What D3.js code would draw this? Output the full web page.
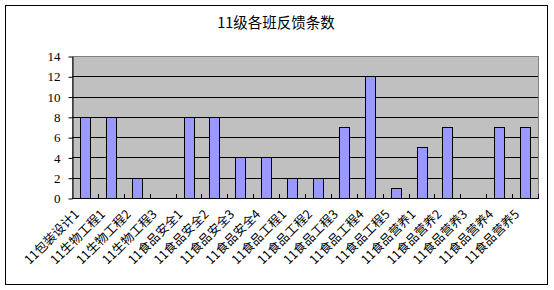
<!DOCTYPE html>
<html>
<head>
<meta charset="utf-8">
<script src="https://cdn.jsdelivr.net/npm/d3@7"></script>
<style>
  body { margin: 0; background: #fff; }
</style>
</head>
<body>
<script>
// categories and values
var classes = ["11包装设计1", "11生物工程1", "11生物工程2", "11生物工程3",
  "11食品安全1", "11食品安全2", "11食品安全3", "11食品安全4",
  "11食品工程1", "11食品工程2", "11食品工程3", "11食品工程4", "11食品工程5",
  "11食品营养1", "11食品营养2", "11食品营养3", "11食品营养4", "11食品营养5"];
var counts = [8, 8, 2, 0, 8, 8, 4, 4, 2, 2, 7, 12, 1, 5, 7, 0, 7, 7];
var yTicks = [0, 2, 4, 6, 8, 10, 12, 14];

var w = 554, h = 290;
var pl = 72, pr = 538, pt = 56, pb = 198;

var svg = d3.select("body").append("svg")
  .attr("width", w)
  .attr("height", h);

// outer frame
svg.append("rect")
  .attr("x", 5.5).attr("y", 5.5)
  .attr("width", 542).attr("height", 279)
  .attr("fill", "#fff")
  .attr("stroke", "#000");

svg.append("text")
  .attr("x", 276).attr("y", 28)
  .attr("text-anchor", "middle")
  .attr("font-family", "Noto Sans CJK SC")
  .attr("font-size", "14.5px")
  .text("11级各班反馈条数");

var x = d3.scaleBand().domain(classes).range([pl, pr]);
var y = d3.scaleLinear().domain([0, 14]).range([pb, pt]);

// plot area
svg.append("rect")
  .attr("x", pl + 0.5).attr("y", pt + 0.5)
  .attr("width", pr - pl).attr("height", pb - pt)
  .attr("fill", "#c0c0c0")
  .attr("stroke", "#808080");

// gridlines
svg.selectAll("line.grid")
  .data(yTicks.slice(1, -1))
  .enter().append("line")
  .attr("class", "grid")
  .attr("x1", pl).attr("x2", pr)
  .attr("y1", function(d) { return Math.round(y(d)) + 0.5; })
  .attr("y2", function(d) { return Math.round(y(d)) + 0.5; })
  .attr("stroke", "#000");

// bars
svg.selectAll("rect.bar")
  .data(counts)
  .enter().append("rect")
  .attr("class", "bar")
  .attr("x", function(d, i) { return Math.round(x(classes[i]) + x.bandwidth() / 2 - 5) + 0.5; })
  .attr("y", function(d) { return Math.round(y(d)) + 0.5; })
  .attr("width", 10)
  .attr("height", function(d) { return Math.round(y(0)) - Math.round(y(d)); })
  .attr("fill", "#9999ff")
  .attr("stroke", "#000")
  .style("display", function(d) { return d > 0 ? null : "none"; });

// y axis
var yAxis = svg.append("g")
  .attr("transform", "translate(" + (pl + 0.5) + ",0.5)")
  .call(d3.axisLeft(y).tickValues(yTicks).tickSize(4).tickSizeOuter(0));
yAxis.select(".domain").attr("stroke", "#000");
yAxis.selectAll("text")
  .attr("font-family", "Liberation Serif")
  .attr("font-size", "13px")
  .attr("fill", "#000")
  .attr("dx", "-5");

// x axis baseline with ticks pointing up between categories
var xg = svg.append("g");
xg.append("line")
  .attr("x1", pl).attr("x2", pr + 1)
  .attr("y1", pb + 0.5).attr("y2", pb + 0.5)
  .attr("stroke", "#000");
xg.selectAll("line.tick")
  .data(classes.slice(1).concat(["end"]))
  .enter().append("line")
  .attr("class", "tick")
  .attr("x1", function(d, i) { return Math.round(pl + x.step() * (i + 1)) + 0.5; })
  .attr("x2", function(d, i) { return Math.round(pl + x.step() * (i + 1)) + 0.5; })
  .attr("y1", pb - 4).attr("y2", pb)
  .attr("stroke", "#000");

// rotated labels
svg.selectAll("text.lab")
  .data(classes)
  .enter().append("text")
  .attr("class", "lab")
  .attr("transform", function(d) {
    return "translate(" + (x(d) + x.bandwidth() / 2 - 5) + "," + (pb + 17) + ") rotate(-45)";
  })
  .attr("text-anchor", "end")
  .attr("font-family", "Noto Sans CJK SC")
  .attr("font-size", "12.5px")
  .text(function(d) { return d; });
</script>
</body>
</html>
